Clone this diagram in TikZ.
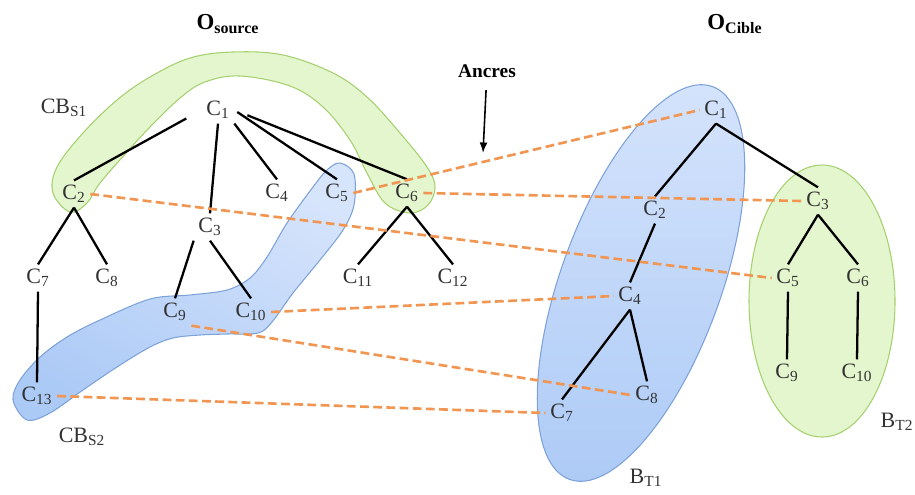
\documentclass[tikz,border=0pt]{standalone}
\usepackage{fontspec}
\setmainfont{Liberation Serif}
\usetikzlibrary{arrows.meta}

\definecolor{bandgreen}{RGB}{228,246,206}
\definecolor{edgegreen}{RGB}{165,208,110}
\definecolor{bluelight}{RGB}{214,228,252}
\definecolor{bluedark}{RGB}{172,202,246}
\definecolor{edgeblue}{RGB}{125,162,218}
\definecolor{ancreorange}{RGB}{240,150,82}
\definecolor{labelgray}{RGB}{50,50,50}

\begin{document}
\begin{tikzpicture}[x=0.02cm, y=-0.02cm,
  cnode/.style = {inner sep=2.5pt, text=labelgray, font=\fontsize{12.5}{14}\selectfont},
  title/.style = {inner sep=1pt, font=\bfseries\fontsize{13}{15}\selectfont},
  branch/.style = {line width=1.3pt, black},
  anchorline/.style = {draw=ancreorange, line width=1.5pt, dash pattern=on 5pt off 2.5pt},
  arrow/.style = {line width=0.9pt, -{Latex[length=6pt, width=4.5pt]}},
  greenzone/.style = {draw=edgegreen, line width=0.6pt, fill=bandgreen},
  bluezone/.style = {draw=edgeblue, line width=0.6pt, top color=bluelight, bottom color=bluedark}
]
\useasboundingbox (0,0) rectangle (915,494);

% Zones
\draw[greenzone] plot[smooth cycle, tension=0.6] coordinates {
  (53,193) (57,167) (83,133) (117,100) (150,77) (190,58) (233,52) (283,55)
  (333,73) (367,97) (400,133) (427,167) (435,187) (428,205) (410,213)
  (385,203) (367,173) (350,140) (323,107) (290,86) (240,76) (205,82)
  (180,98) (150,127) (127,152) (100,183) (87,203) (70,212)};
\draw[bluezone, top color=bluelight, bottom color=bluedark, shading angle=-30] plot[smooth cycle, tension=0.55] coordinates {
  (13,400) (20,380) (40,357) (67,337) (100,320) (150,299) (190,295) (227,290)
  (250,278) (267,257) (287,223) (313,187) (327,170) (340,163) (354,174)
  (354,205) (343,230) (320,260) (293,293) (272,322) (258,333) (227,334)
  (200,335) (173,338) (150,347) (117,367) (83,390) (50,413) (27,420)};
\draw[bluezone, rotate around={70:(641,283)}] (641,283) ellipse [x radius=209, y radius=80];
\draw[greenzone] (822,301) ellipse [x radius=73, y radius=136];

% Source ontology
\node[title] (osource) at (228,24) {O\textsubscript{source}};
\node[cnode] (cbs1) at (64,108) {CB\textsubscript{S1}};
\node[cnode] (cbs2) at (82,437) {CB\textsubscript{S2}};
\node[cnode] (sC1) at (218,110) {C\textsubscript{1}};
\node[cnode] (sC2) at (74,194) {C\textsubscript{2}};
\node[cnode] (sC3) at (210,227) {C\textsubscript{3}};
\node[cnode] (sC4) at (277,193) {C\textsubscript{4}};
\node[cnode] (sC5) at (337,193) {C\textsubscript{5}};
\node[cnode] (sC6) at (407,193) {C\textsubscript{6}};
\node[cnode] (sC7) at (38,278) {C\textsubscript{7}};
\node[cnode] (sC8) at (107,278) {C\textsubscript{8}};
\node[cnode] (sC9) at (175,312) {C\textsubscript{9}};
\node[cnode] (sC10) at (251,312) {C\textsubscript{10}};
\node[cnode] (sC11) at (358,278) {C\textsubscript{11}};
\node[cnode] (sC12) at (453,278) {C\textsubscript{12}};
\node[cnode] (sC13) at (37,396) {C\textsubscript{13}};

% Target ontology
\node[title] (ocible) at (735,24) {O\textsubscript{Cible}};
\node[cnode] (bt1) at (646,478) {B\textsubscript{T1}};
\node[cnode] (bt2) at (897,422) {B\textsubscript{T2}};
\node[cnode] (tC1) at (716,110) {C\textsubscript{1}};
\node[cnode] (tC2) at (655,210) {C\textsubscript{2}};
\node[cnode] (tC3) at (818,201) {C\textsubscript{3}};
\node[cnode] (tC4) at (630,296) {C\textsubscript{4}};
\node[cnode] (tC5) at (788,278) {C\textsubscript{5}};
\node[cnode] (tC6) at (858,278) {C\textsubscript{6}};
\node[cnode] (tC7) at (562,413) {C\textsubscript{7}};
\node[cnode] (tC8) at (647,395) {C\textsubscript{8}};
\node[cnode] (tC9) at (787,373) {C\textsubscript{9}};
\node[cnode] (tC10) at (857,373) {C\textsubscript{10}};

% Source hierarchy
\draw[branch, shorten <=10pt] (sC1.west) -- (sC2.north);
\draw[branch] (sC1.south) -- (sC3.north);
\draw[branch] (sC1.south east) -- (sC4.north);
\draw[branch, shorten <=2pt] (sC1.east) -- (sC5.north);
\draw[branch, shorten <=8pt] (sC1.east) -- (sC6.north);
\draw[branch] (sC2.south) -- (sC7.north);
\draw[branch] (sC2.south) -- (sC8.north);
\draw[branch] (sC3.south west) -- (sC9.north);
\draw[branch] (sC3.south) -- (sC10.north);
\draw[branch] (sC6.south) -- (sC11.north);
\draw[branch] (sC6.south) -- (sC12.north);
\draw[branch] (sC7.south) -- (sC13.north);

% Target hierarchy
\draw[branch] (tC1.south) -- (tC2.north);
\draw[branch] (tC1.south) -- (tC3.north);
\draw[branch] (tC2.south) -- (tC4.north);
\draw[branch] (tC4.south) -- (tC7.north);
\draw[branch] (tC4.south) -- (tC8.north);
\draw[branch] (tC3.south) -- (tC5.north);
\draw[branch] (tC3.south) -- (tC6.north);
\draw[branch] (tC5.south) -- (tC9.north);
\draw[branch] (tC6.south) -- (tC10.north);

% Anchors
\draw[anchorline] (sC5.east) -- (tC1.west);
\draw[anchorline] (sC6.east) -- (tC3.west);
\draw[anchorline] (sC2.east) -- (tC5.west);
\draw[anchorline] (sC10.east) -- (tC4.west);
\draw[anchorline] (sC9.south east) -- (tC8.west);
\draw[anchorline] (sC13.east) -- (tC7.west);

\node[title, font=\bfseries\fontsize{11}{13}\selectfont] (ancres) at (487,71) {Ancres};
\coordinate (ancrestip) at (483,153);
\draw[arrow, shorten <=6pt] (ancres) -- (ancrestip);
\end{tikzpicture}
\end{document}
